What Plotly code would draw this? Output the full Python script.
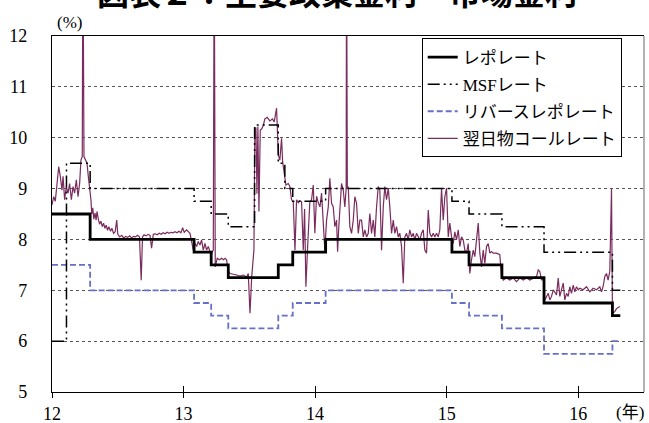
import plotly.graph_objects as go

# ---- policy rates (step series: change points in decimal years, value from that point) ----
repo_x = [12.0, 12.29, 13.08, 13.21, 13.34, 13.72, 13.83, 14.08, 15.04, 15.17, 15.42, 15.74, 16.26, 16.32]
repo_y = [8.5, 8.0, 7.75, 7.5, 7.25, 7.5, 7.75, 8.0, 7.75, 7.5, 7.25, 6.75, 6.5, 6.5]

msf_x = [12.0, 12.11, 12.29, 13.08, 13.21, 13.34, 13.54, 13.72, 13.77, 13.83, 14.08, 15.04, 15.17, 15.42, 15.74, 16.26, 16.32]
msf_y = [6.0, 9.5, 9.0, 8.75, 8.5, 8.25, 10.25, 9.5, 9.0, 8.75, 9.0, 8.75, 8.5, 8.25, 7.75, 7.0, 7.0]

rrepo_x = [12.0, 12.29, 13.08, 13.21, 13.34, 13.72, 13.83, 14.08, 15.04, 15.17, 15.42, 15.74, 16.26, 16.32]
rrepo_y = [7.5, 7.0, 6.75, 6.5, 6.25, 6.5, 6.75, 7.0, 6.75, 6.5, 6.25, 5.75, 6.0, 6.0]

# ---- overnight call rate ----
call_x = [
    12.000, 12.013, 12.025, 12.038, 12.051, 12.063, 12.076, 12.084, 12.096, 12.109,
    12.122, 12.134, 12.147, 12.160, 12.172, 12.185, 12.198, 12.210, 12.220, 12.230,
    12.235, 12.243, 12.253, 12.266, 12.276, 12.286, 12.296, 12.302, 12.310, 12.318,
    12.327, 12.335, 12.342, 12.352, 12.362, 12.372, 12.382, 12.392, 12.402, 12.412,
    12.422, 12.432, 12.445, 12.455, 12.468, 12.480, 12.492, 12.500, 12.515, 12.530,
    12.545, 12.560, 12.575, 12.590, 12.605, 12.620, 12.635, 12.650, 12.665, 12.678,
    12.688, 12.700, 12.715, 12.730, 12.745, 12.757, 12.770, 12.785, 12.800, 12.815,
    12.830, 12.845, 12.860, 12.875, 12.890, 12.905, 12.920, 12.935, 12.950, 12.965,
    12.980, 12.993, 13.005, 13.023, 13.049, 13.074, 13.087, 13.099, 13.112, 13.125,
    13.137, 13.150, 13.163, 13.175, 13.188, 13.201, 13.213, 13.226, 13.233, 13.241,
    13.256, 13.272, 13.289, 13.302, 13.315, 13.327, 13.340, 13.353, 13.378, 13.403,
    13.429, 13.454, 13.479, 13.492, 13.505, 13.518, 13.535, 13.542, 13.550, 13.558,
    13.565, 13.573, 13.583, 13.593, 13.606, 13.618, 13.636, 13.656, 13.676, 13.689,
    13.707, 13.720, 13.732, 13.745, 13.753, 13.763, 13.778, 13.796, 13.808, 13.821,
    13.834, 13.847, 13.859, 13.872, 13.885, 13.897, 13.910, 13.920, 13.930, 13.943,
    13.960, 13.973, 13.986, 13.998, 14.011, 14.024, 14.037, 14.049, 14.062, 14.074,
    14.087, 14.100, 14.112, 14.125, 14.138, 14.150, 14.163, 14.171, 14.180, 14.190,
    14.201, 14.214, 14.226, 14.236, 14.239, 14.245, 14.252, 14.264, 14.277, 14.290,
    14.302, 14.315, 14.328, 14.340, 14.353, 14.366, 14.378, 14.391, 14.404, 14.416,
    14.429, 14.442, 14.454, 14.467, 14.480, 14.492, 14.505, 14.518, 14.530, 14.543,
    14.556, 14.568, 14.581, 14.594, 14.606, 14.619, 14.632, 14.644, 14.657, 14.670,
    14.682, 14.695, 14.708, 14.720, 14.733, 14.746, 14.758, 14.771, 14.784, 14.796,
    14.809, 14.822, 14.834, 14.847, 14.860, 14.872, 14.885, 14.898, 14.910, 14.923,
    14.936, 14.948, 14.961, 14.974, 14.986, 14.999, 15.012, 15.024, 15.037, 15.050,
    15.062, 15.075, 15.088, 15.100, 15.113, 15.126, 15.138, 15.151, 15.164, 15.176,
    15.189, 15.202, 15.214, 15.227, 15.240, 15.252, 15.265, 15.278, 15.290, 15.303,
    15.316, 15.328, 15.341, 15.354, 15.379, 15.404, 15.417, 15.430, 15.455, 15.480,
    15.506, 15.531, 15.556, 15.582, 15.607, 15.632, 15.658, 15.683, 15.696, 15.708,
    15.721, 15.734, 15.746, 15.759, 15.772, 15.784, 15.797, 15.810, 15.835, 15.848,
    15.860, 15.873, 15.886, 15.898, 15.911, 15.924, 15.936, 15.949, 15.962, 15.974,
    15.987, 16.000, 16.012, 16.037, 16.063, 16.088, 16.113, 16.139, 16.164, 16.177,
    16.189, 16.202, 16.215, 16.227, 16.240, 16.253, 16.260, 16.278, 16.291, 16.316,
]
call_y = [
    8.68, 8.84, 8.75, 9.17, 9.43, 9.24, 8.97, 9.24, 8.78, 9.04,
    8.91, 9.10, 8.78, 9.04, 8.91, 9.17, 8.84, 9.10, 9.56, 9.63,
    14.0, 9.63, 9.56, 9.50, 9.24, 9.04, 8.78, 8.50, 8.62, 8.40,
    8.52, 8.38, 8.55, 8.40, 8.30, 8.36, 8.25, 8.32, 8.22, 8.28,
    8.18, 8.25, 8.16, 8.22, 8.12, 8.15, 8.38, 8.10, 8.05, 8.08,
    8.03, 8.06, 8.04, 8.07, 8.03, 8.06, 8.05, 8.08, 8.05, 7.20,
    8.05, 8.09, 8.07, 8.10, 8.08, 7.83, 8.10, 8.11, 8.09, 8.12,
    8.10, 8.13, 8.11, 8.14, 8.12, 8.14, 8.13, 8.15, 8.13, 8.16,
    8.13, 8.23, 8.14, 8.19, 8.12, 7.79, 7.92, 7.86, 7.96, 7.89,
    7.99, 7.79, 7.92, 7.79, 7.86, 7.76, 7.73, 7.79, 14.0, 7.46,
    7.63, 7.60, 7.63, 7.60, 7.63, 7.60, 7.37, 7.33, 7.32, 7.30,
    7.28, 7.30, 7.26, 7.33, 6.55, 7.26, 7.80, 10.17, 10.20, 8.90,
    10.22, 8.55, 10.15, 10.17, 10.24, 10.37, 10.40, 10.33, 10.37, 10.31,
    10.58, 9.66, 9.56, 9.99, 9.53, 9.30, 9.07, 9.10, 9.04, 8.78,
    8.74, 7.79, 8.78, 8.72, 8.76, 8.74, 7.79, 8.60, 7.07, 7.85,
    8.74, 8.78, 9.07, 8.12, 8.85, 8.72, 8.64, 8.91, 8.38, 7.79,
    8.38, 8.64, 9.20, 8.71, 8.64, 8.25, 8.38, 7.76, 8.25, 8.60,
    9.10, 8.97, 8.64, 9.00, 14.0, 9.00, 9.04, 8.25, 8.12, 8.38,
    8.84, 8.71, 8.12, 8.38, 8.38, 8.05, 8.19, 8.05, 8.12, 8.51,
    8.12, 8.38, 8.05, 8.64, 9.04, 8.97, 7.79, 8.64, 9.04, 8.78,
    9.01, 8.64, 8.12, 8.38, 8.12, 8.25, 8.05, 8.12, 7.86, 7.14,
    8.05, 8.12, 7.99, 8.19, 8.05, 8.12, 7.99, 8.12, 8.05, 7.99,
    8.12, 8.19, 7.79, 7.73, 8.58, 8.12, 8.05, 8.12, 8.05, 8.12,
    8.05, 8.19, 9.00, 8.38, 8.84, 9.01, 8.05, 8.32, 8.05, 7.92,
    8.15, 7.99, 8.19, 7.86, 8.05, 7.99, 7.79, 7.73, 7.92, 7.33,
    7.60, 7.79, 7.66, 7.99, 8.32, 7.73, 7.46, 7.79, 7.53, 7.86,
    7.92, 7.73, 7.76, 7.73, 7.73, 7.70, 7.27, 7.20, 7.24, 7.20,
    7.24, 7.17, 7.24, 7.20, 7.24, 7.20, 7.24, 7.27, 7.40, 7.37,
    7.20, 7.24, 6.81, 6.88, 6.94, 6.81, 6.88, 7.01, 6.91, 7.24,
    6.88, 7.01, 7.14, 6.81, 6.94, 6.88, 7.07, 6.94, 7.10, 6.97,
    7.07, 7.01, 7.04, 7.01, 7.07, 6.97, 7.04, 7.01, 7.07, 6.97,
    7.07, 7.27, 7.33, 7.20, 7.37, 9.00, 6.55, 6.58, 6.64, 6.68,
]

series_names = ["レポレート", "MSFレート", "リバースレポレート", "翌日物コールレート"]
x_ticks = [12, 13, 14, 15, 16]
x_tick_labels = ["12", "13", "14", "15", "16"]
y_ticks = [5, 6, 7, 8, 9, 10, 11, 12]

SERIF = "Liberation Serif, Noto Sans CJK JP"

fig = go.Figure()
fig.add_trace(go.Scatter(x=call_x, y=call_y, mode="lines", name=series_names[3], legendgroup="d",
                         line=dict(color="#7B2C5E", width=1.2), legendrank=4))
fig.add_trace(go.Scatter(x=rrepo_x, y=rrepo_y, mode="lines", name=series_names[2], line_shape="hv",
                         legendgroup="c",
                         line=dict(color="#6670C8", width=1.8, dash="6px,3px"), legendrank=3))
fig.add_trace(go.Scatter(x=msf_x, y=msf_y, mode="lines", name=series_names[1], line_shape="hv",
                         legendgroup="b",
                         line=dict(color="black", width=1.5, dash="12px,4px,2px,4px,2px,4px"), legendrank=2))
fig.add_trace(go.Scatter(x=repo_x, y=repo_y, mode="lines", name=series_names[0], line_shape="hv",
                         legendgroup="a",
                         line=dict(color="black", width=2.8), legendrank=1))
fig.add_trace(go.Scatter(x=[12], y=[5], xaxis="x2", mode="markers", marker=dict(opacity=0),
                         showlegend=False, hoverinfo="skip"))

fig.update_layout(
    width=649, height=423,
    margin=dict(l=52, r=5, t=36, b=31),
    paper_bgcolor="white", plot_bgcolor="white",
    font=dict(family=SERIF, size=17, color="black"),
    showlegend=True,
    legend=dict(x=0.6245, y=0.993, xanchor="left", yanchor="top",
                bgcolor="white", bordercolor="black", borderwidth=1,
                font=dict(family=SERIF, size=17), traceorder="grouped", tracegroupgap=2),
    xaxis=dict(range=[12, 16.5], tickvals=x_ticks, ticktext=x_tick_labels, automargin=False,
               showgrid=False, zeroline=False, showline=True, linecolor="black", linewidth=1.2,
               mirror=True, ticks="outside", ticklen=5, tickcolor="black",
               tickfont=dict(family=SERIF, size=18)),
    xaxis2=dict(range=[12, 16.5], tickvals=x_ticks, overlaying="x", anchor="y", automargin=False,
                showgrid=False, zeroline=False, showline=False, ticks="inside", ticklen=6,
                tickcolor="black", showticklabels=False),
    yaxis=dict(range=[5, 12], tickvals=y_ticks, showgrid=True, gridcolor="#555", automargin=False,
               griddash="dot", gridwidth=1, zeroline=False, showline=True, linecolor="black",
               linewidth=1.2, ticks="", ticklabelstandoff=20,
               tickfont=dict(family=SERIF, size=18)),
    shapes=[dict(type="line", xref="paper", yref="paper", x0=1, x1=1, y0=0, y1=1,
                 line=dict(color="#999", width=1.5))],
    annotations=[
        dict(text="<b>図表２：主要政策金利・市場金利</b>", xref="paper", yref="paper", x=0.481, y=1.127,
             xanchor="center", yanchor="middle", showarrow=False,
             font=dict(family="Noto Sans CJK JP", size=32, color="black")),
        dict(text="(%)", xref="paper", yref="paper", x=0.030, y=1.039,
             xanchor="center", yanchor="middle", showarrow=False,
             font=dict(family=SERIF, size=17)),
        dict(text="(年)", xref="paper", yref="paper", x=0.976, y=-0.058,
             xanchor="center", yanchor="middle", showarrow=False,
             font=dict(family=SERIF, size=17)),
    ],
)

fig.write_html("out.html", config={"displayModeBar": False},
               post_script="document.body.style.margin='0';document.body.style.padding='0';")
